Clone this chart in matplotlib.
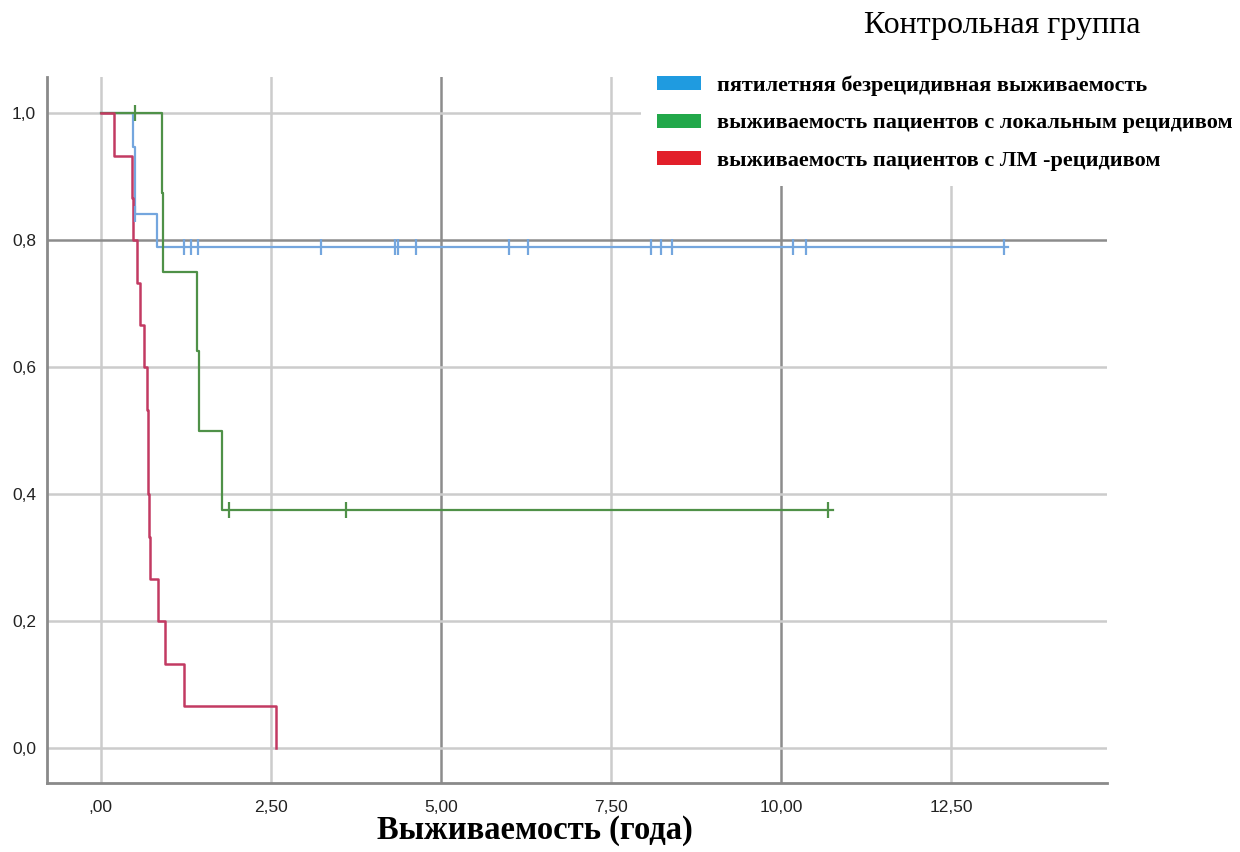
import numpy as np
import matplotlib
matplotlib.use('Agg')
import matplotlib.pyplot as plt
from matplotlib.patches import Patch

# Kaplan-Meier curves (time in years, survival share)
blue_t = [0, 0.48, 0.50, 0.83]
blue_s = [1.0, 0.947, 0.842, 0.79]
blue_end = 13.33
blue_cens = [0.50, 1.22, 1.32, 1.43, 3.24, 4.33, 4.37, 4.63, 6.00, 6.28,
             8.09, 8.23, 8.40, 10.18, 10.37, 13.27]

green_t = [0, 0.90, 0.92, 1.42, 1.44, 1.78]
green_s = [1.0, 0.875, 0.75, 0.625, 0.5, 0.375]
green_end = 10.76
green_cens = [0.50, 1.89, 3.61, 10.69]

red_t = [0, 0.19, 0.46, 0.48, 0.53, 0.57, 0.63, 0.68, 0.69, 0.70, 0.71,
         0.72, 0.84, 0.95, 1.22, 2.58]
red_s = [1.0, 0.933, 0.867, 0.8, 0.733, 0.667, 0.6, 0.533, 0.467, 0.4,
         0.333, 0.267, 0.2, 0.133, 0.067, 0.0]
red_end = 2.58

x_ticks = [0, 2.5, 5.0, 7.5, 10.0, 12.5]
x_labels = [',00', '2,50', '5,00', '7,50', '10,00', '12,50']
y_ticks = [0.0, 0.2, 0.4, 0.6, 0.8, 1.0]
y_labels = ['0,0', '0,2', '0,4', '0,6', '0,8', '1,0']

legend_labels = ['пятилетняя безрецидивная выживаемость',
                 'выживаемость пациентов с локальным рецидивом',
                 'выживаемость пациентов с ЛМ -рецидивом']
legend_colors = ['#1f9be0', '#22a84a', '#e21f2a']


def surv_at(t, s, x):
    i = np.searchsorted(t, x, side='right') - 1
    return np.asarray(s)[i]


def km(ax, t, s, end, cens, color, lw=1.6):
    tt = list(t) + [end]
    ss = list(s) + [s[-1]]
    ax.step(tt, ss, where='post', color=color, lw=lw, zorder=3)
    if cens:
        ax.plot(cens, surv_at(t, s, cens), ls='none', marker='|', ms=11,
                mew=1.6, color=color, zorder=4)


fig = plt.figure(figsize=(12.4, 8.52), dpi=100)
ax = fig.add_axes([0.0379, 0.0810, 0.8548, 0.8286])

ax.set_xlim(-0.79, 14.79)
ax.set_ylim(-0.055, 1.057)
ax.set_xticks(x_ticks)
ax.set_xticklabels(x_labels)
ax.set_yticks(y_ticks)
ax.set_yticklabels(y_labels)
ax.tick_params(length=0, labelsize=12.5, colors='#222222')
ax.tick_params(axis='x', pad=12)
ax.tick_params(axis='y', pad=8)
for lab in ax.get_xticklabels() + ax.get_yticklabels():
    lab.set_family('Liberation Sans')

ax.grid(True, color='#cccccc', lw=1.8, zorder=0)
ax.get_ygridlines()[4].set_color('#8c8c8c')
ax.get_xgridlines()[2].set_color('#8c8c8c')
ax.get_xgridlines()[4].set_color('#8c8c8c')

for side in ['top', 'right']:
    ax.spines[side].set_visible(False)
for side in ['left', 'bottom']:
    ax.spines[side].set_color('#8a8a8a')
    ax.spines[side].set_linewidth(2)

km(ax, blue_t, blue_s, blue_end, blue_cens, '#74a6de')
km(ax, green_t, green_s, green_end, green_cens, '#4f9148')
km(ax, red_t, red_s, red_end, [], '#c23a62', lw=1.8)

fig.text(535 / 1240, 1 - 831 / 852, 'Выживаемость (года)', ha='center',
         va='center', family='Liberation Serif', fontweight='bold',
         fontsize=23.5)

handles = [Patch(facecolor=c, edgecolor='none') for c in legend_colors]
leg = fig.legend(handles, legend_labels, loc='upper left',
                 bbox_to_anchor=(641 / 1240, 1 - 60 / 852), frameon=True,
                 edgecolor='none', facecolor='white', framealpha=1,
                 fancybox=False, borderaxespad=0,
                 handlelength=2.0, handleheight=0.6, handletextpad=0.7,
                 labelspacing=0.78, borderpad=0.7,
                 prop={'family': 'Liberation Serif', 'weight': 'bold', 'size': 16})

fig.text(1140 / 1240, 1 - 25 / 852, 'Контрольная группа', ha='right',
         va='center', family='Liberation Serif', fontsize=23)

fig.savefig('out.png', dpi=100, facecolor='white')
